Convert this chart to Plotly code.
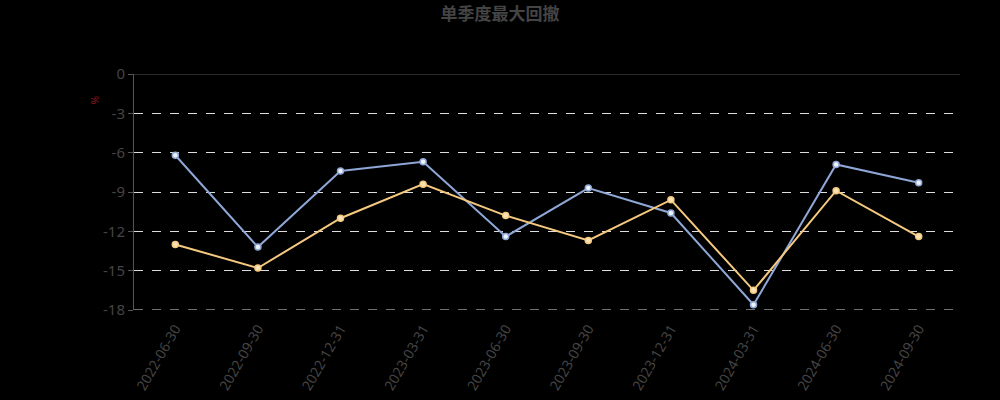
import plotly.graph_objects as go

categories = ["2022-06-30", "2022-09-30", "2022-12-31", "2023-03-31", "2023-06-30",
              "2023-09-30", "2023-12-31", "2024-03-31", "2024-06-30", "2024-09-30"]
series_a = [-6.2, -13.2, -7.4, -6.7, -12.4, -8.7, -10.6, -17.6, -6.9, -8.3]
series_b = [-13.0, -14.8, -11.0, -8.4, -10.8, -12.7, -9.6, -16.5, -8.9, -12.4]
y_ticks = [0, -3, -6, -9, -12, -15, -18]

fig = go.Figure()
fig.add_trace(go.Scatter(
    x=categories, y=series_a, mode="lines+markers",
    line=dict(color="#8ea7d6", width=2),
    marker=dict(size=6, color="#eef2fa", line=dict(color="#8ea7d6", width=1.5)),
    showlegend=False, cliponaxis=False))
fig.add_trace(go.Scatter(
    x=categories, y=series_b, mode="lines+markers",
    line=dict(color="#f5c97f", width=2),
    marker=dict(size=6, color="#fbe3b8", line=dict(color="#f5c97f", width=1.5)),
    showlegend=False, cliponaxis=False))

fig.update_layout(
    width=1000, height=400,
    paper_bgcolor="#000000", plot_bgcolor="#000000",
    margin=dict(l=134, r=40, t=74, b=90),
    title=dict(text="<b>单季度最大回撤</b>", x=0.5, xanchor="center", y=0.965, yanchor="middle",
               font=dict(family="Noto Sans CJK SC", size=17, color="#444444")),
    font=dict(family="Noto Sans, DejaVu Sans", color="#444444"),
    xaxis=dict(type="category", range=[-0.5, 9.5], showgrid=False, zeroline=False,
               showline=False, ticks="outside", ticklen=4, tickcolor="rgba(0,0,0,0)",
               tickangle=-60, tickfont=dict(size=14, color="#444444"), automargin=False),
    yaxis=dict(range=[-18, 0], tickvals=y_ticks, ticktext=[str(v) for v in y_ticks],
               showgrid=True, gridcolor="#dddddd", griddash="dash", gridwidth=1,
               zeroline=False, showline=True, linecolor="#555555", linewidth=1,
               ticks="outside", ticklen=5, tickcolor="#555555",
               tickfont=dict(size=15, color="#444444"), automargin=False),
    shapes=[
        dict(type="line", xref="paper", yref="y", x0=0, x1=1, y0=-18, y1=-18,
             line=dict(color="#dddddd", width=1, dash="dash"), layer="below"),
        dict(type="line", xref="paper", yref="y", x0=0, x1=1, y0=0, y1=0,
             line=dict(color="#555555", width=1)),
    ],
    annotations=[dict(text="%", xref="paper", yref="paper", x=-0.047, y=0.89,
                      xanchor="center", yanchor="middle",
                      showarrow=False, textangle=-90,
                      font=dict(size=10, color="#8b1a1a"))],
)

fig.write_html("out.html", config={"displayModeBar": False},
               post_script="document.body.style.margin='0';document.body.style.background='#000';")
